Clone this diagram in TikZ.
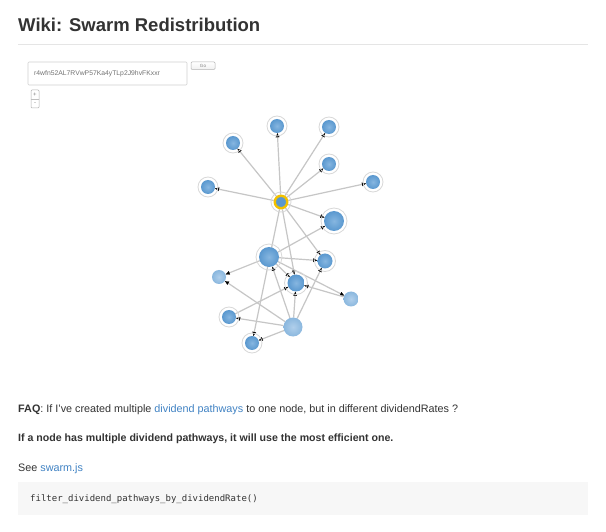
\documentclass[tikz,border=0pt]{standalone}
\usepackage{fontspec}
\setmainfont{Liberation Sans}
\setmonofont{DejaVu Sans Mono}
\usetikzlibrary{arrows.meta,backgrounds}
\definecolor{txt}{HTML}{333333}
\definecolor{link}{HTML}{4183C4}
\definecolor{rulegray}{HTML}{E5E5E5}
\definecolor{edgegray}{HTML}{C6C6C6}
\definecolor{halogray}{HTML}{D8D8D8}
\definecolor{dkin}{HTML}{86B6E0}
\definecolor{dkout}{HTML}{5A98CF}
\definecolor{ltin}{HTML}{B0CFEB}
\definecolor{ltout}{HTML}{8AB7DE}
\definecolor{gold}{HTML}{F2C100}
\definecolor{codebg}{HTML}{F7F7F7}
\tikzset{
  dk/.style={circle, inner sep=0pt, outer sep=0pt, shading=radial, inner color=dkin, outer color=dkout, minimum size=#1},
  lt/.style={circle, inner sep=0pt, outer sep=0pt, shading=radial, inner color=ltin, outer color=ltout, minimum size=#1},
  centre/.style={circle, inner sep=0pt, minimum size=12.5pt, fill=dkout, draw=gold, line width=2.4pt},
  halo/.style={draw=halogray, line width=0.8pt},
  link/.style={draw=edgegray, line width=1.2pt, -{Latex[length=4.2pt,width=3.8pt,line width=0.2pt,color=black]}},
  bodytext/.style={anchor=base west, inner sep=0pt, text=txt, font=\fontsize{10.8}{12}\selectfont},
}
\begin{document}
\begin{tikzpicture}[x=1pt,y=-1pt]
\useasboundingbox (0,0) rectangle (606,532);
% header
\node[anchor=base west, inner sep=0pt, text=txt, font=\fontsize{18.5}{22}\selectfont\bfseries] (title) at (18,32) {Wiki: Swarm Redistribution};
\draw[rulegray, line width=0.8pt] (18,44) -- (588,44);
% input box and controls
\draw[draw=black!18, line width=0.6pt, rounded corners=1pt] (28,62) rectangle (187,85);
\node[anchor=west, inner sep=0pt, text=black!55, font=\fontsize{6.8}{8}\selectfont] (addr) at (34,74) {r4wfn52AL7RVwP57Ka4yTLp2J9hvFKxxr};
\draw[draw=black!30, line width=0.5pt, rounded corners=1pt, top color=white, bottom color=black!6] (191,62) rectangle (215,69.5);
\node[inner sep=0pt, text=black!50, font=\fontsize{4.5}{5}\selectfont] (go) at (203,66) {Go};
\draw[draw=black!30, line width=0.5pt, rounded corners=1pt, fill=white] (31,90) rectangle (39,108);
\draw[draw=black!25, line width=0.4pt] (31,99) -- (39,99);
\node[inner sep=0pt, text=black!50, font=\fontsize{6}{6}\selectfont] (zin) at (35,94.5) {+};
\node[inner sep=0pt, text=black!50, font=\fontsize{6}{6}\selectfont] (zout) at (35,103.5) {-};
% graph nodes
\node[centre] (c) at (281,202) {};
\node[dk=14pt] (n1) at (277,126) {};
\node[dk=14pt] (n2) at (329,127) {};
\node[dk=14pt] (n3) at (233,143) {};
\node[dk=14pt] (n4) at (329,164) {};
\node[dk=14pt] (n5) at (208,187) {};
\node[dk=14pt] (n6) at (373,182) {};
\node[dk=20pt] (n7) at (334,221) {};
\node[dk=20pt] (n8) at (269,257) {};
\node[dk=15pt] (n9) at (325,261) {};
\node[lt=14pt] (n10) at (219,277) {};
\node[dk=17pt] (n11) at (296,283) {};
\node[lt=15pt] (n12) at (351,299) {};
\node[dk=14pt] (n13) at (229,317) {};
\node[lt=19pt] (n14) at (293,327) {};
\node[dk=14pt] (n15) at (252,343) {};
% halos
\draw[halo] (c.center) circle (10pt);
\foreach \n in {n1,n2,n3,n4,n5,n6,n13,n15} {\draw[halo] (\n.center) circle (10pt);}
\draw[halo] (n7.center) circle (13pt);
\draw[halo] (n8.center) circle (13pt);
\draw[halo] (n9.center) circle (10.5pt);
\draw[halo] (n11.center) circle (11.5pt);
% edges
\begin{scope}[on background layer]
\fill[white] (0,0) rectangle (606,532);
\foreach \t in {n1,n2,n3,n4,n5,n6,n7,n9,n11,n15} {\draw[link] (c) -- (\t);}
\foreach \t in {n7,n9,n10,n11,n12} {\draw[link] (n8) -- (\t);}
\draw[link] (n12) -- (n11);
\draw[link] (n13) -- (n11);
\foreach \t in {n11,n9,n8,n10,n13,n15} {\draw[link] (n14) -- (\t);}
\end{scope}
% text
\node[bodytext] (faq) at (18,412) {\textbf{FAQ}: If I've created multiple \textcolor{link}{dividend pathways} to one node, but in different dividendRates ?};
\node[bodytext, font=\fontsize{10.6}{12}\selectfont\bfseries] (ans) at (18,441) {If a node has multiple dividend pathways, it will use the most efficient one.};
\node[bodytext] (see) at (18,471) {See \textcolor{link}{swarm.js}};
\fill[codebg] (18,482) rectangle (588,515);
\node[anchor=base west, inner sep=0pt, text=txt, font=\ttfamily\fontsize{9}{11}\selectfont] (code) at (30,501) {filter\_dividend\_pathways\_by\_dividendRate()};
\end{tikzpicture}
\end{document}
